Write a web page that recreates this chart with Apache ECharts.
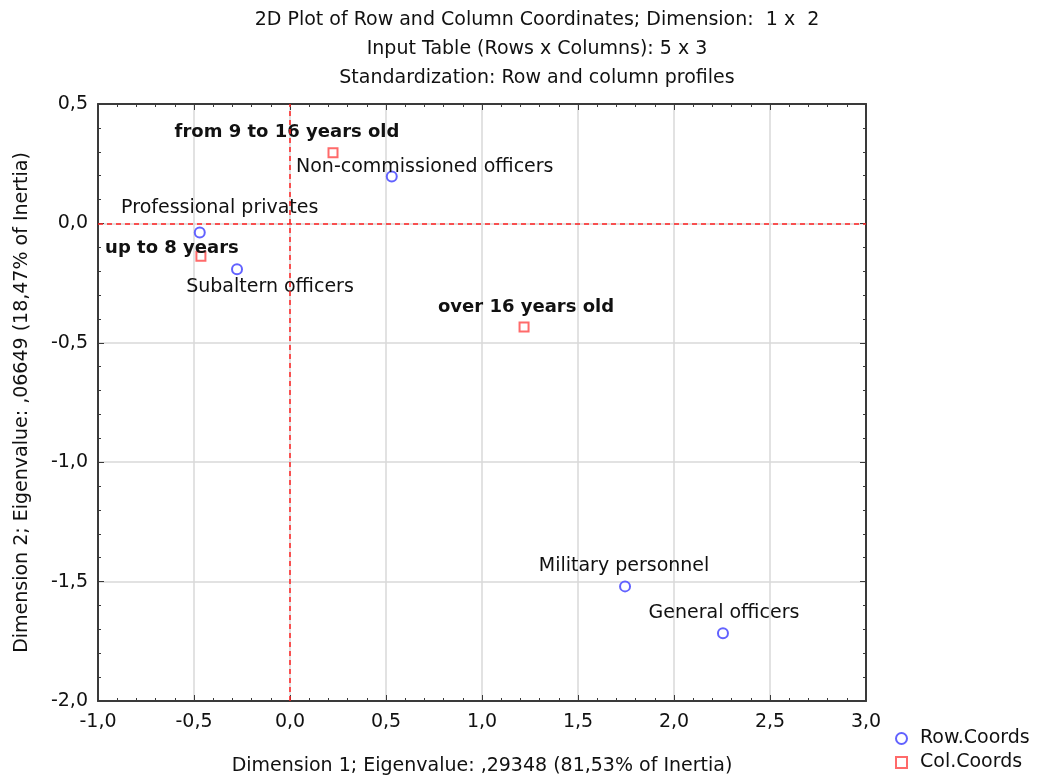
<!DOCTYPE html>
<html>
<head>
<meta charset="utf-8">
<script src="https://cdn.jsdelivr.net/npm/echarts@6/dist/echarts.min.js"></script>
<style>
  html, body { margin: 0; padding: 0; background: #fff; }
  #chart { width: 1051px; height: 778px; }
</style>
</head>
<body>
<div id="chart"></div>
<script>
// Row coordinates (dimension 1, dimension 2)
const rowNames = ['Non-commissioned officers', 'Professional privates', 'Subaltern officers', 'Military personnel', 'General officers'];
const rowDim1 = [0.530, -0.470, -0.276, 1.745, 2.255];
const rowDim2 = [0.196, -0.038, -0.192, -1.520, -1.716];

// Column coordinates (dimension 1, dimension 2)
const colNames = ['from 9 to 16 years old', 'up to 8 years', 'over 16 years old'];
const colDim1 = [0.224, -0.464, 1.219];
const colDim2 = [0.296, -0.138, -0.434];

const xTicks = [-1.0, -0.5, 0.0, 0.5, 1.0, 1.5, 2.0, 2.5, 3.0];
const yTicks = [-2.0, -1.5, -1.0, -0.5, 0.0, 0.5];

// Label placement (pixel offsets from each point) to keep the labels apart
const rowLabelOffsets = [[33, -10], [20, -24], [33, 18], [-1, -20], [1, -20]];
const colLabelOffsets = [[-46, -20], [-29, -8], [2, -20]];

const FONT = '"DejaVu Sans", "Liberation Sans", Arial, sans-serif';
const FS = 19;       // regular text
const FS_BOLD = 18;  // bold column labels
const INK = '#111';
const FRAME = '#3a3a3a';
const ROW_COLOR = '#6262ff';
const COL_COLOR = '#ff6a6a';
const fmt = v => v.toFixed(1).replace('.', ',');

function points(xs, ys, names, offsets, bold) {
  return xs.map((x, i) => ({
    value: [x, ys[i]],
    name: names[i],
    label: {
      show: true,
      position: 'inside',
      offset: offsets[i],
      formatter: names[i],
      color: INK,
      textBorderWidth: 0,
      textBorderColor: 'transparent',
      fontFamily: FONT,
      fontSize: bold ? FS_BOLD : FS,
      fontWeight: bold ? 'bold' : 'normal'
    }
  }));
}

// Shared frame styling: every side of the plot box carries inward ticks
function frameAxis(extra) {
  return Object.assign({
    type: 'value',
    interval: 0.5,
    axisLine: { show: true, onZero: false, lineStyle: { color: FRAME, width: 2 } },
    axisTick: { show: true, inside: true, length: 6, lineStyle: { color: FRAME } },
    minorTick: { show: true, splitNumber: 5, length: 3, lineStyle: { color: FRAME } },
    splitLine: { show: false }
  }, extra);
}

const chart = echarts.init(document.getElementById('chart'), null, { renderer: 'canvas' });

chart.setOption({
  animation: false,
  backgroundColor: '#fff',
  title: {
    text: '2D Plot of Row and Column Coordinates; Dimension:  1 x  2\nInput Table (Rows x Columns): 5 x 3\nStandardization: Row and column profiles',
    left: 532,
    textAlign: 'center',
    top: 1,
    textStyle: { fontFamily: FONT, fontSize: FS, fontWeight: 'normal', color: INK, lineHeight: 29 }
  },
  legend: {
    orient: 'vertical',
    left: 890,
    top: 724,
    itemGap: 5,
    itemWidth: 11,
    itemHeight: 11,
    textStyle: { fontFamily: FONT, fontSize: FS, color: INK, padding: [0, 0, 0, 8] },
    data: [
      { name: 'Row.Coords', icon: 'circle', itemStyle: { color: '#fff', borderColor: ROW_COLOR, borderWidth: 2, opacity: 1 } },
      { name: 'Col.Coords', icon: 'rect', itemStyle: { color: '#fff', borderColor: COL_COLOR, borderWidth: 2, opacity: 1 } }
    ]
  },
  grid: {
    left: 98, right: 185, top: 104, bottom: 77,
    outerBoundsMode: 'none',
    containLabel: false,
    show: false
  },
  xAxis: [
    frameAxis({
      position: 'bottom',
      min: xTicks[0], max: xTicks[xTicks.length - 1],
      name: 'Dimension 1; Eigenvalue: ,29348 (81,53% of Inertia)',
      nameLocation: 'middle', nameGap: 56,
      nameTextStyle: { fontFamily: FONT, fontSize: FS, color: INK },
      axisLabel: { formatter: fmt, fontFamily: FONT, fontSize: FS, color: INK, margin: 12 },
      splitLine: { show: true, showMinLine: false, showMaxLine: false, lineStyle: { color: '#d9d9d9', width: 1.5 } }
    }),
    frameAxis({
      position: 'top',
      min: xTicks[0], max: xTicks[xTicks.length - 1],
      axisLabel: { show: false }
    })
  ],
  yAxis: [
    frameAxis({
      position: 'left',
      min: yTicks[0], max: yTicks[yTicks.length - 1],
      name: 'Dimension 2; Eigenvalue: ,06649 (18,47% of Inertia)',
      nameLocation: 'middle', nameGap: 66, nameRotate: 90,
      nameTextStyle: { fontFamily: FONT, fontSize: FS, color: INK },
      axisLabel: { formatter: fmt, fontFamily: FONT, fontSize: FS, color: INK, margin: 10 },
      splitLine: { show: true, showMinLine: false, showMaxLine: false, lineStyle: { color: '#d9d9d9', width: 1.5 } }
    }),
    frameAxis({
      position: 'right',
      min: yTicks[0], max: yTicks[yTicks.length - 1],
      axisLabel: { show: false }
    })
  ],
  series: [
    {
      name: 'Row.Coords',
      type: 'scatter',
      symbol: 'circle',
      symbolSize: 10,
      itemStyle: { color: '#fff', borderColor: ROW_COLOR, borderWidth: 2, opacity: 1 },
      data: points(rowDim1, rowDim2, rowNames, rowLabelOffsets, false),
      z: 3,
      markLine: {
        silent: true,
        symbol: 'none',
        label: { show: false },
        lineStyle: { color: '#ff2020', type: [5, 4], width: 1.5 },
        data: [{ xAxis: 0 }, { yAxis: 0 }]
      }
    },
    {
      name: 'Col.Coords',
      type: 'scatter',
      symbol: 'rect',
      symbolSize: 9,
      itemStyle: { color: '#fff', borderColor: COL_COLOR, borderWidth: 2, opacity: 1 },
      data: points(colDim1, colDim2, colNames, colLabelOffsets, true),
      z: 3
    }
  ]
});
</script>
</body>
</html>
